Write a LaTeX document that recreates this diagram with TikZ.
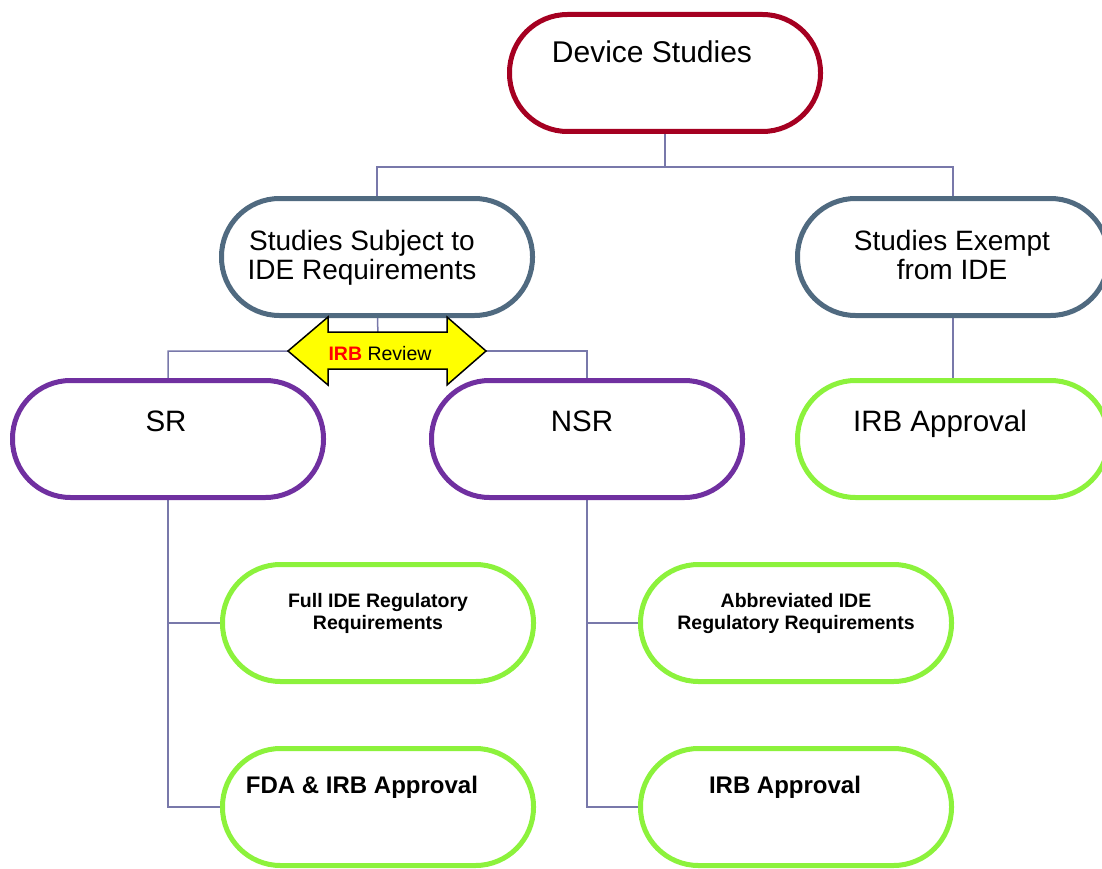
\documentclass[tikz,border=0pt]{standalone}
\usepackage{fontspec}
\setmainfont{Liberation Sans}
\usetikzlibrary{calc}
\definecolor{devred}{RGB}{165,0,33}
\definecolor{slate}{RGB}{80,106,128}
\definecolor{purp}{RGB}{112,48,160}
\definecolor{lgreen}{RGB}{140,242,60}
\definecolor{conn}{RGB}{120,120,170}
\definecolor{arrowyellow}{RGB}{255,255,0}
\tikzset{
  pill/.style={draw=#1, line width=5pt, fill=white, rounded corners=58pt,
    minimum width=311pt, minimum height=117pt, inner sep=0pt},
  slot/.style={minimum width=311pt, minimum height=117pt, inner sep=0pt},
  connector/.style={draw=conn, line width=1.5pt},
  bigtxt/.style={font=\fontsize{28}{29}\selectfont, align=center, inner sep=0pt},
  smalltxt/.style={font=\bfseries\fontsize{19.5}{22}\selectfont, align=center, inner sep=0pt},
  midtxt/.style={font=\bfseries\fontsize{24}{26}\selectfont, inner sep=0pt},
}
\begin{document}
\begin{tikzpicture}[x=1pt,y=-1pt]
\useasboundingbox (0,0) rectangle (1102,869);
\clip (0,0) rectangle (1102,869);
% junction coordinates
\coordinate (j1) at (665,167);
\coordinate (j2) at (378,351);
% box positions
\path (665,73) node[slot] (dev) {};
\path (377,257) node[slot] (subj) {};
\path (953,257) node[slot] (exempt) {};
\path (168,439) node[slot] (sr) {};
\path (587,439) node[slot] (nsr) {};
\path (953,439) node[slot] (irbr) {};
\path (378,623) node[slot] (full) {};
\path (796,623) node[slot] (abbr) {};
\path (378,807) node[slot] (fda) {};
\path (796,807) node[slot] (irbb) {};
% connectors
\draw[connector] (dev.center) -- (j1) -| (subj.center);
\draw[connector] (j1) -| (exempt.center);
\draw[connector] (subj.center) -- (j2) -| (sr.center);
\draw[connector] (j2) -| (nsr.center);
\draw[connector] (exempt.center) -- (irbr.center);
\draw[connector] (sr.center) |- (full.center);
\draw[connector] (sr.center) |- (fda.center);
\draw[connector] (nsr.center) |- (abbr.center);
\draw[connector] (nsr.center) |- (irbb.center);
% visible boxes
\node[pill=devred] at (dev) {};
\node[pill=slate] at (subj) {};
\node[pill=slate] at (exempt) {};
\node[pill=purp] at (sr) {};
\node[pill=purp] at (nsr) {};
\node[pill=lgreen] at (irbr) {};
\node[pill=lgreen] at (full) {};
\node[pill=lgreen] at (abbr) {};
\node[pill=lgreen] at (fda) {};
\node[pill=lgreen] at (irbb) {};
% texts
\node[bigtxt, font=\fontsize{30}{30}\selectfont, anchor=base] (tdev) at (652,62.5) {Device Studies};
\node[bigtxt] (tsubj) at (362,257.5) {Studies Subject to\\IDE Requirements};
\node[bigtxt] (texempt) at (952,254.5) {Studies Exempt\\from IDE};
\node[bigtxt, font=\fontsize{29.5}{30}\selectfont, anchor=base] (tsr) at (166,431.5) {SR};
\node[bigtxt, font=\fontsize{29.5}{30}\selectfont, anchor=base] (tnsr) at (582,431.5) {NSR};
\node[bigtxt, font=\fontsize{29.5}{30}\selectfont, anchor=base] (tirbr) at (940,431.5) {IRB Approval};
\node[smalltxt] (tfull) at (378,613) {Full IDE Regulatory\\Requirements};
\node[smalltxt] (tabbr) at (796,613) {Abbreviated IDE\\Regulatory Requirements};
\node[midtxt, anchor=base] (tfda) at (362,793.5) {FDA \& IRB Approval};
\node[midtxt, anchor=base] (tirbb) at (785,793.5) {IRB Approval};
% IRB Review double arrow
\draw[line width=1.5pt, fill=arrowyellow, line join=miter]
  (288,351) -- (328,317) -- (328,332) -- (447,332) -- (447,317) -- (486,351)
  -- (447,385) -- (447,369) -- (328,369) -- (328,385) -- cycle;
\node[anchor=base, inner sep=0pt, font=\fontsize{19.5}{20}\selectfont] (tirb) at (380,360)
  {\textcolor{red}{\bfseries IRB} Review};
\end{tikzpicture}
\end{document}
